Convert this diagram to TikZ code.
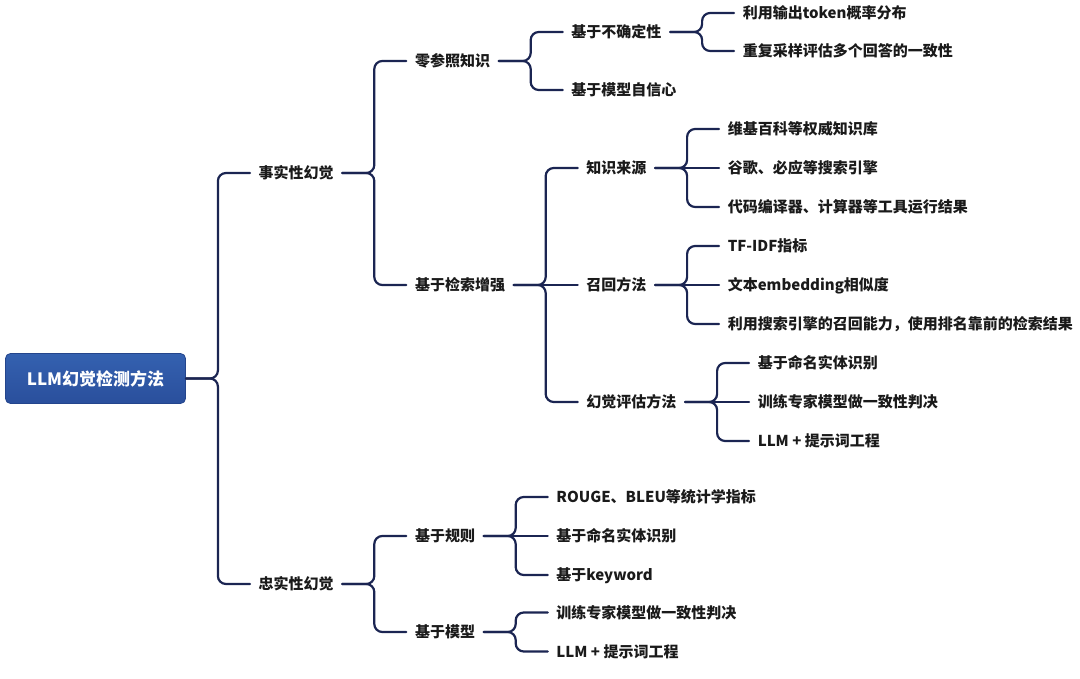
\documentclass[tikz,border=0pt]{standalone}
\usepackage{fontspec}
\setmainfont{Noto Sans CJK SC}
\usepackage{xcolor}
\usepackage{tikz}
\usetikzlibrary{positioning}

\definecolor{linkblue}{HTML}{1B2552}
\definecolor{roottop}{HTML}{3461B0}
\definecolor{rootbottom}{HTML}{2A4F9C}
\definecolor{rootedge}{HTML}{24458C}
\definecolor{labelgray}{HTML}{1A1A1A}

\begin{document}
\begin{tikzpicture}[node distance=64pt, line cap=round]
                \tikzset{every edge/.style={draw=linkblue, line width=2.2pt, rounded corners=8pt,
                    to path={(\tikztostart.east) -- ++(32pt,0) |- (\tikztotarget.west)}}}
                \tikzset{flat/.style={to path={(\tikztostart.east) -- (\tikztotarget.west)}}}
                \tikzset{topic/.style={font=\bfseries\fontsize{15pt}{18pt}\selectfont, text=labelgray,
                    inner xsep=8.5pt, inner ysep=0pt, text height=13pt, text depth=1.5pt}}
                \tikzset{rootbox/.style={font=\bfseries\fontsize{17pt}{20pt}\selectfont, text=white,
                    top color=roottop, bottom color=rootbottom, draw=rootedge, line width=0.8pt,
                    rounded corners=5pt, minimum width=180pt, minimum height=50pt}}
                \useasboundingbox (0,0) rectangle (1080pt,-679pt);
                \node[rootbox] (root) at (95.5pt,-378.5pt) {LLM幻觉检测方法};
                % level 1
                \node[topic, right=of root, yshift=205.5pt] (fact) {事实性幻觉};
                \node[topic, right=of root, yshift=-205.5pt] (faith) {忠实性幻觉};
                % factual branch
                \node[topic, right=of fact, yshift=112pt] (zero) {零参照知识};
                \node[topic, right=of fact, yshift=-112pt] (rag) {基于检索增强};
                \node[topic, right=of zero, yshift=29pt] (unc) {基于不确定性};
                \node[topic, right=of zero, yshift=-29pt] (conf) {基于模型自信心};
                \node[topic, right=of unc, yshift=19pt] (tok) {利用输出token概率分布};
                \node[topic, right=of unc, yshift=-19pt] (resamp) {重复采样评估多个回答的一致性};
                \node[topic, right=of rag, yshift=117pt] (src) {知识来源};
                \node[topic, right=of rag] (recall) {召回方法};
                \node[topic, right=of rag, yshift=-117pt] (eval) {幻觉评估方法};
                \node[topic, right=of src, yshift=39pt] (wiki) {维基百科等权威知识库};
                \node[topic, right=of src] (engine) {谷歌、必应等搜索引擎};
                \node[topic, right=of src, yshift=-39pt] (tool) {代码编译器、计算器等工具运行结果};
                \node[topic, right=of recall, yshift=39pt] (tfidf) {TF-IDF指标};
                \node[topic, right=of recall] (embed) {文本embedding相似度};
                \node[topic, right=of recall, yshift=-39pt] (rank) {利用搜索引擎的召回能力，使用排名靠前的检索结果};
                \node[topic, right=of eval, yshift=39pt] (ner) {基于命名实体识别};
                \node[topic, right=of eval] (expert) {训练专家模型做一致性判决};
                \node[topic, right=of eval, yshift=-39pt] (prompt) {LLM + 提示词工程};
                % faithfulness branch
                \node[topic, right=of faith, yshift=48pt] (rule) {基于规则};
                \node[topic, right=of faith, yshift=-48pt] (model) {基于模型};
                \node[topic, right=of rule, yshift=39pt] (rouge) {ROUGE、BLEU等统计学指标};
                \node[topic, right=of rule] (rner) {基于命名实体识别};
                \node[topic, right=of rule, yshift=-39pt] (kw) {基于keyword};
                \node[topic, right=of model, yshift=19.5pt] (mexpert) {训练专家模型做一致性判决};
                \node[topic, right=of model, yshift=-19.5pt] (mprompt) {LLM + 提示词工程};
                % connectors
                \path (root) edge (fact);
                \path (root) edge (faith);
                \path (fact) edge (zero);
                \path (fact) edge (rag);
                \path (zero) edge (unc);
                \path (zero) edge (conf);
                \path (unc) edge (tok);
                \path (unc) edge (resamp);
                \path (rag) edge (src);
                \path (rag) edge[flat] (recall);
                \path (rag) edge (eval);
                \path (src) edge (wiki);
                \path (src) edge[flat] (engine);
                \path (src) edge (tool);
                \path (recall) edge (tfidf);
                \path (recall) edge[flat] (embed);
                \path (recall) edge (rank);
                \path (eval) edge (ner);
                \path (eval) edge[flat] (expert);
                \path (eval) edge (prompt);
                \path (faith) edge (rule);
                \path (faith) edge (model);
                \path (rule) edge (rouge);
                \path (rule) edge[flat] (rner);
                \path (rule) edge (kw);
                \path (model) edge (mexpert);
                \path (model) edge (mprompt);
            \end{tikzpicture}
\end{document}
